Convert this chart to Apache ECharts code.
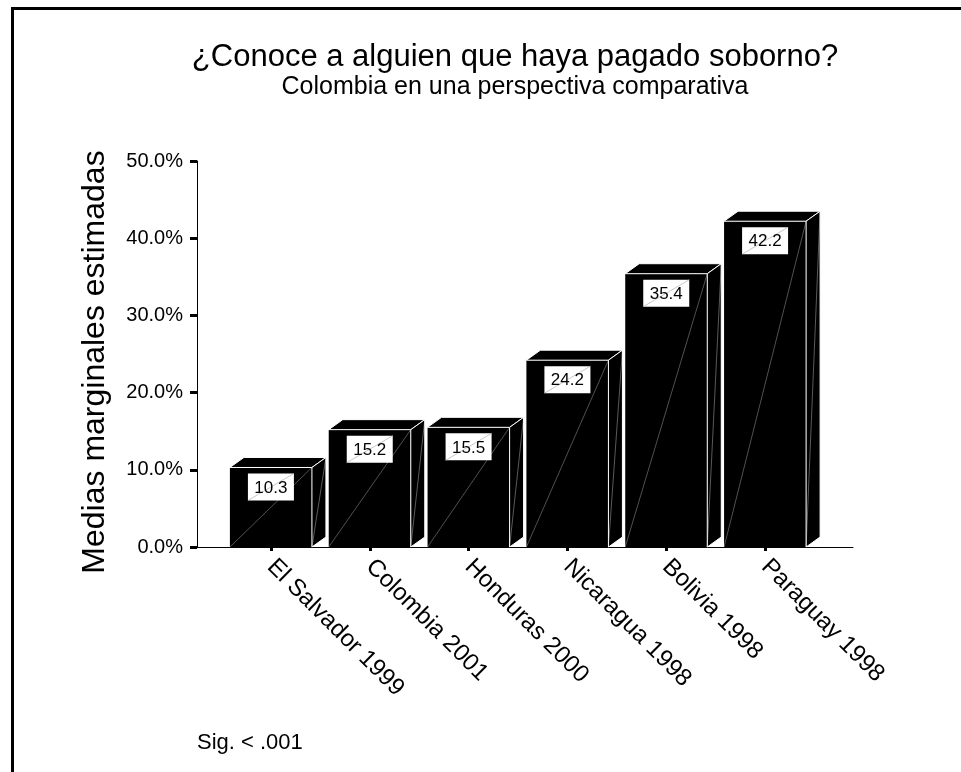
<!DOCTYPE html>
<html>
<head>
<meta charset="utf-8">
<script src="https://cdn.jsdelivr.net/npm/echarts@6/dist/echarts.min.js"></script>
<style>
html, body { margin: 0; padding: 0; background: #fff; }
#chart { width: 961px; height: 772px; }
</style>
</head>
<body>
<div id="chart"></div>
<script>
const categories = ['El Salvador 1999', 'Colombia 2001', 'Honduras 2000', 'Nicaragua 1998', 'Bolivia 1998', 'Paraguay 1998']
const values = [10.3, 15.2, 15.5, 24.2, 35.4, 42.2]
const yMin = 0
const yMax = 50
const yStep = 10

const font = '"Liberation Sans", Arial, sans-serif'

// 3d-ish box: front face, top face, side face, value tag
function renderBar(params, api) {
  const top = api.coord([api.value(0), api.value(1)])
  const base = api.coord([api.value(0), 0])
  const w = api.size([1, 0])[0] * 0.83
  const dx = 14
  const dy = 10
  const l = top[0] - w / 2
  const r = top[0] + w / 2
  const t = top[1]
  const b = base[1]
  const boxW = 46
  const boxH = 27
  const bx = top[0] - boxW / 2
  const by = t + 6
  return {
    type: 'group',
    children: [
      { type: 'rect', shape: { x: l, y: t, width: w, height: b - t }, style: { fill: '#000' } },
      { type: 'line', shape: { x1: l, y1: b, x2: r, y2: t }, style: { stroke: 'rgba(255,255,255,0.45)', lineWidth: 0.7 } },
      { type: 'polygon', shape: { points: [[l, t], [l + dx, t - dy], [r + dx, t - dy], [r, t]] }, style: { fill: '#000', stroke: '#fff', lineWidth: 1 } },
      { type: 'polygon', shape: { points: [[r, t], [r + dx, t - dy], [r + dx, b - dy], [r, b]] }, style: { fill: '#000', stroke: '#fff', lineWidth: 1 } },
      { type: 'line', shape: { x1: r, y1: b, x2: r + dx, y2: t - dy }, style: { stroke: 'rgba(255,255,255,0.5)', lineWidth: 0.7 } },
      { type: 'rect', shape: { x: bx, y: by, width: boxW, height: boxH }, style: { fill: '#fff' } },
      { type: 'line', shape: { x1: bx, y1: by + boxH, x2: bx + boxW, y2: by }, style: { stroke: '#b0b0b0', lineWidth: 0.7 } },
      {
        type: 'text',
        style: {
          text: api.value(1).toFixed(1),
          x: top[0],
          y: by + boxH / 2 + 1,
          align: 'center',
          verticalAlign: 'middle',
          fontSize: 17,
          fontFamily: font,
          fill: '#000'
        }
      }
    ]
  }
}

const chart = echarts.init(document.getElementById('chart'))

chart.setOption({
  animation: false,
  backgroundColor: '#fff',
  textStyle: { fontFamily: font, color: '#000' },
  title: [
    {
      text: '¿Conoce a alguien que haya pagado soborno?',
      left: 510,
      top: 37,
      textAlign: 'center',
      textStyle: { fontSize: 31, fontWeight: 'normal', color: '#000', fontFamily: font }
    },
    {
      text: 'Colombia en una perspectiva comparativa',
      left: 510,
      top: 70,
      textAlign: 'center',
      textStyle: { fontSize: 25, fontWeight: 'normal', color: '#000', fontFamily: font }
    },
    {
      text: 'Sig. < .001',
      left: 192,
      top: 727,
      textStyle: { fontSize: 22, fontWeight: 'normal', color: '#000', fontFamily: font }
    }
  ],
  graphic: [
    {
      type: 'rect',
      left: 10,
      top: 6,
      shape: { width: 1000, height: 1000 },
      style: { fill: 'none', stroke: '#000', lineWidth: 3 },
      silent: true
    }
  ],
  grid: [
    { left: 197, right: 108, top: 161, bottom: 225 },
    { left: 221.5, right: 146.5, top: 161, bottom: 225 }
  ],
  xAxis: [
    {
      type: 'value',
      gridIndex: 0,
      min: 0,
      max: 1,
      axisLine: { show: true, lineStyle: { color: '#000', width: 1 } },
      axisTick: { show: false },
      axisLabel: { show: false },
      splitLine: { show: false }
    },
    {
      type: 'category',
      gridIndex: 1,
      data: categories,
      axisLine: { show: false },
      axisTick: { show: true, alignWithLabel: true, length: 4, lineStyle: { color: '#000', width: 3 } },
      axisLabel: { rotate: -45, interval: 0, fontSize: 24, margin: 16, color: '#000', fontFamily: font }
    }
  ],
  yAxis: [
    {
      type: 'value',
      gridIndex: 0,
      min: yMin,
      max: yMax,
      interval: yStep,
      name: 'Medias marginales estimadas',
      nameLocation: 'middle',
      nameGap: 86,
      nameTextStyle: { fontSize: 32, color: '#000', fontFamily: font, padding: [0, 16, 0, 0] },
      axisLine: { show: true, lineStyle: { color: '#000', width: 1 } },
      axisTick: { show: true, length: 7, lineStyle: { color: '#000', width: 3 } },
      axisLabel: {
        fontSize: 20,
        margin: 14,
        color: '#000',
        fontFamily: font,
        formatter: v => v.toFixed(1) + '%'
      },
      splitLine: { show: false }
    },
    {
      type: 'value',
      gridIndex: 1,
      min: yMin,
      max: yMax,
      interval: yStep,
      show: false
    }
  ],
  series: [
    {
      type: 'custom',
      xAxisIndex: 1,
      yAxisIndex: 1,
      clip: false,
      renderItem: renderBar,
      encode: { x: 0, y: 1 },
      data: values.map((v, i) => [i, v])
    }
  ]
})
</script>
</body>
</html>
